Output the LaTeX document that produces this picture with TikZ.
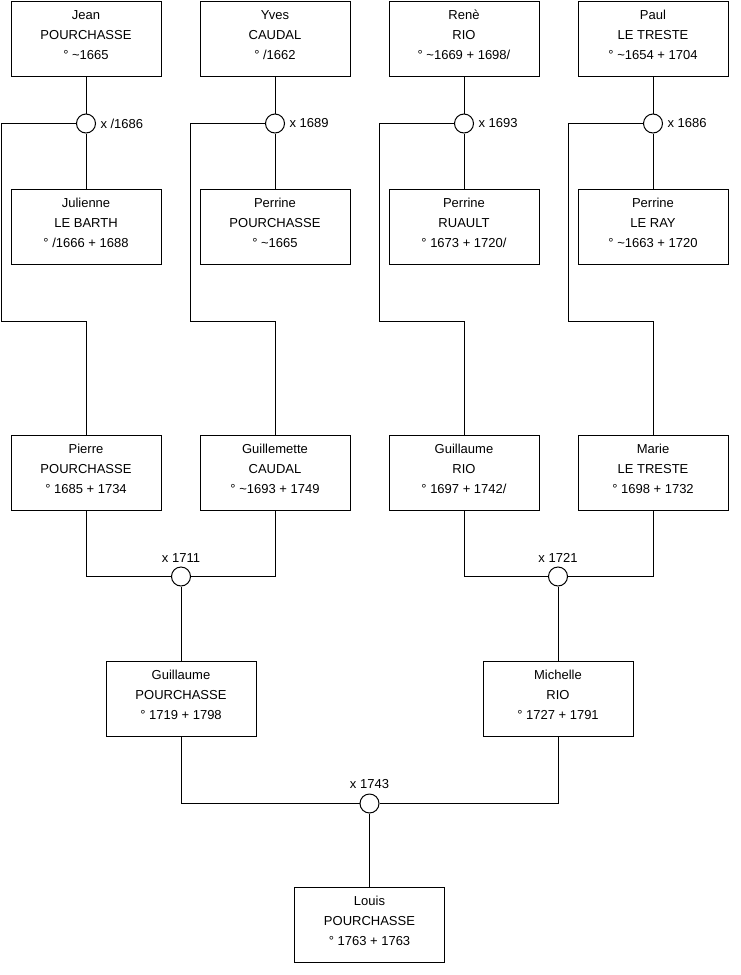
\documentclass[tikz,border=0pt]{standalone}
\usepackage{fontspec}
\setmainfont{Liberation Sans}
\usetikzlibrary{positioning}
\begin{document}
\begin{tikzpicture}[x=1pt,y=-1pt,line width=1pt,
  person/.style={draw, rectangle, minimum width=150pt, minimum height=75pt, inner sep=0pt, align=center, text depth=7pt, font=\fontsize{13}{20}\selectfont},
  wed/.style={draw, circle, minimum size=19pt, inner sep=0pt, fill=white},
  wedlabel/.style={inner sep=0pt, font=\fontsize{13}{16}\selectfont}]
\useasboundingbox (0,0) rectangle (740,975);

% grandparents
\node (jean) [person] at (86,38.5) {Jean\\POURCHASSE\\° \textasciitilde1665};
\node (yves) [person] at (275,38.5) {Yves\\CAUDAL\\° /1662};
\node (rene) [person] at (464,38.5) {Renè\\RIO\\° \textasciitilde1669 + 1698/};
\node (paul) [person] at (653,38.5) {Paul\\LE TRESTE\\° \textasciitilde1654 + 1704};

\node (julienne) [person] at (86,226.5) {Julienne\\LE BARTH\\° /1666 + 1688};
\node (perrinep) [person] at (275,226.5) {Perrine\\POURCHASSE\\° \textasciitilde1665};
\node (perriner) [person] at (464,226.5) {Perrine\\RUAULT\\° 1673 + 1720/};
\node (perrinel) [person] at (653,226.5) {Perrine\\LE RAY\\° \textasciitilde1663 + 1720};

\node (m1) [wed] at (86,123.5) {};
\node (m2) [wed] at (275,123.5) {};
\node (m3) [wed] at (464,123.5) {};
\node (m4) [wed] at (653,123.5) {};
\node (l1) [wedlabel, right=4pt of m1] {x /1686};
\node (l2) [wedlabel, right=4pt of m2] {x 1689};
\node (l3) [wedlabel, right=4pt of m3] {x 1693};
\node (l4) [wedlabel, right=4pt of m4] {x 1686};

% parents
\node (pierre) [person] at (86,472.5) {Pierre\\POURCHASSE\\° 1685 + 1734};
\node (guillemette) [person] at (275,472.5) {Guillemette\\CAUDAL\\° \textasciitilde1693 + 1749};
\node (guillaumer) [person] at (464,472.5) {Guillaume\\RIO\\° 1697 + 1742/};
\node (marie) [person] at (653,472.5) {Marie\\LE TRESTE\\° 1698 + 1732};

\node (m5) [wed] at (181,576.5) {};
\node (m6) [wed] at (558,576.5) {};
\node (l5) [wedlabel, above=4pt of m5] {x 1711};
\node (l6) [wedlabel, above=4pt of m6] {x 1721};

\node (guillaumep) [person] at (181,698.5) {Guillaume\\POURCHASSE\\° 1719 + 1798};
\node (michelle) [person] at (558,698.5) {Michelle\\RIO\\° 1727 + 1791};

\node (m7) [wed] at (369.5,803.5) {};
\node (l7) [wedlabel, above=4pt of m7] {x 1743};

\node (louis) [person] at (369.5,924.5) {Louis\\POURCHASSE\\° 1763 + 1763};

\coordinate (b1) at (1,321);
\coordinate (b2) at (190,321);
\coordinate (b3) at (379,321);
\coordinate (b4) at (568,321);

\draw (jean) -- (m1);
\draw (yves) -- (m2);
\draw (rene) -- (m3);
\draw (paul) -- (m4);
\draw (m1) -- (julienne);
\draw (m2) -- (perrinep);
\draw (m3) -- (perriner);
\draw (m4) -- (perrinel);
\draw (m1.west) -| (b1) -| (pierre.north);
\draw (m2.west) -| (b2) -| (guillemette.north);
\draw (m3.west) -| (b3) -| (guillaumer.north);
\draw (m4.west) -| (b4) -| (marie.north);

\draw (pierre.south) |- (m5.west);
\draw (m5.east) -| (guillemette.south);
\draw (m5) -- (guillaumep);
\draw (guillaumer.south) |- (m6.west);
\draw (m6.east) -| (marie.south);
\draw (m6) -- (michelle);

\draw (guillaumep.south) |- (m7.west);
\draw (m7.east) -| (michelle.south);
\draw (m7) -- (louis);
\end{tikzpicture}
\end{document}
